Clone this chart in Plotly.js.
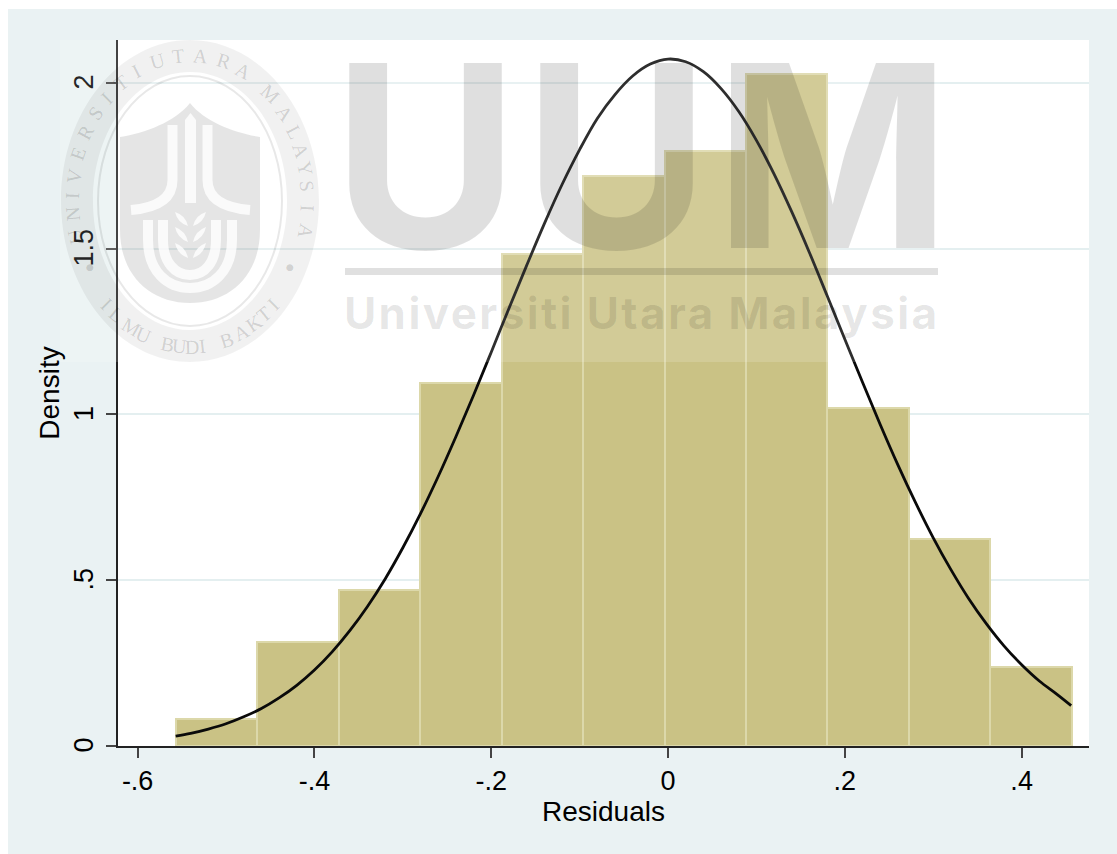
<!DOCTYPE html>
<html>
<head>
<meta charset="utf-8">
<script src="https://cdn.plot.ly/plotly-3.0.1.min.js"></script>
<style>
html,body{margin:0;padding:0;background:#fff;overflow:hidden}
#chart{position:absolute;left:0;top:0;width:1117px;height:854px}
.annotation[data-index="0"] text{letter-spacing:5px}
.annotation[data-index="1"] text{letter-spacing:2.4px}
</style>
</head>
<body>
<div id="chart"></div>
<script>
// Histogram bins
const binCenters = [-0.5105,-0.4184,-0.3263,-0.2342,-0.1421,-0.05,0.0421,0.1342,0.2263,0.3184,0.4105];
const binDensity = [0.08,0.315,0.47,1.095,1.485,1.72,1.795,2.027,1.02,0.625,0.238];
const binWidth = 0.0921;
// Overlaid density curve
const curveX = [-0.557,-0.54,-0.52,-0.50,-0.48,-0.46,-0.44,-0.42,-0.40,-0.38,-0.36,-0.34,-0.32,-0.30,-0.28,-0.26,-0.24,-0.22,-0.20,-0.18,-0.16,-0.14,-0.12,-0.10,-0.08,-0.06,-0.04,-0.02,0,0.02,0.04,0.06,0.08,0.10,0.12,0.14,0.16,0.18,0.20,0.22,0.24,0.26,0.28,0.30,0.32,0.34,0.36,0.38,0.40,0.42,0.44,0.456];
const curveY = [0.03,0.038,0.051,0.067,0.088,0.113,0.145,0.183,0.229,0.284,0.348,0.421,0.504,0.598,0.701,0.813,0.933,1.058,1.188,1.320,1.449,1.575,1.693,1.799,1.893,1.965,2.021,2.057,2.072,2.064,2.034,1.983,1.914,1.827,1.725,1.611,1.488,1.358,1.227,1.097,0.97,0.848,0.734,0.628,0.532,0.445,0.369,0.302,0.245,0.196,0.156,0.122];
// Axes
const xTickVals = [-0.6,-0.4,-0.2,0,0.2,0.4];
const xTickText = ['-.6','-.4','-.2','0','.2','.4'];
const yTickVals = [0,0.5,1,1.5,2];
const yTickText = ['0','.5','1','1.5','2'];
const xTitle = 'Residuals';
const yTitle = 'Density';
// Watermark lettering around the seal: [letter, angle in degrees]
const sealTop = [['U',-104],['N',-95],['I',-88],['V',-80],['E',-71],['R',-62],['S',-53],['I',-45],['T',-36],['I',-27],
  ['U',-16],['T',-6],['A',5],['R',17],['A',27],['M',43],['A',53],['L',62],['A',70],['Y',77],['S',84],['I',93],['A',102]];
const sealBottom = [['I',-45],['L',-39],['M',-30],['U',-23],['B',-11],['U',-5],['D',1],['I',6],['B',18],['A',26],['K',33],['T',39],['I',45]];

const L=118,R=1089,T=40,B=746;
const px=x=>(x-L)/(R-L), py=y=>(B-y)/(B-T);
function P(str){ // page pixels -> paper coords for a path string
  return str.replace(/(-?[\d.]+)\s+(-?[\d.]+)/g,(m,a,b)=>px(+a).toFixed(5)+' '+py(+b).toFixed(5));
}
function ellipse(cx,cy,rx,ry){
  const k=0.5523,a=rx*k,b=ry*k;
  return `M${cx-rx} ${cy} C${cx-rx} ${cy-b} ${cx-a} ${cy-ry} ${cx} ${cy-ry} C${cx+a} ${cy-ry} ${cx+rx} ${cy-b} ${cx+rx} ${cy} C${cx+rx} ${cy+b} ${cx+a} ${cy+ry} ${cx} ${cy+ry} C${cx-a} ${cy+ry} ${cx-rx} ${cy+b} ${cx-rx} ${cy} Z`;
}
function pathShape(d,o){return Object.assign({type:'path',xref:'paper',yref:'paper',path:P(d),layer:'above',line:{width:0}},o);}
function leaf(x0,y0,x1,y1,w){
  const mx=(x0+x1)/2,my=(y0+y1)/2,dx=y1-y0,dy=x0-x1,n=Math.hypot(dx,dy);
  const ox=dx/n*w,oy=dy/n*w;
  return `M${x0} ${y0} Q${mx+ox} ${my+oy} ${x1} ${y1} Q${mx-ox} ${my-oy} ${x0} ${y0} Z`;
}
const cx=190,cy=201;
const gray='rgba(0,0,0,0.10)', white='rgba(255,255,255,0.8)';
const shapes=[
  {type:'rect',xref:'paper',yref:'paper',x0:px(8),x1:px(1117),y0:py(854),y1:py(9),layer:'below',fillcolor:'#eaf2f3',line:{width:0}},
  {type:'rect',xref:'paper',yref:'paper',x0:0,x1:1,y0:0,y1:1,layer:'below',fillcolor:'#ffffff',line:{width:0}},
  {type:'rect',xref:'paper',yref:'paper',x0:px(60),x1:px(940),y0:py(362),y1:py(40),layer:'above',fillcolor:'rgba(255,255,255,0.15)',line:{width:0}},
  pathShape(ellipse(cx,cy,129,161)+' '+ellipse(cx,cy,97,129),{fillcolor:'rgba(0,0,0,0.055)',fillrule:'evenodd'}),
  pathShape(ellipse(cx,cy,92,125),{line:{color:'rgba(0,0,0,0.09)',width:2}}),
  pathShape('M190 103 C175 122 145 133 120 137 L120 230 C120 275 150 303 190 303 C230 303 260 275 260 230 L260 137 C235 133 205 122 190 103 Z',{fillcolor:gray}),
  pathShape('M185 203 L185 120 L190.5 113 L196 120 L196 203 Z',{fillcolor:white}),
  pathShape('M172.5 125 L172.5 180 C172.5 200 155 208 131 210',{line:{color:white,width:10}}),
  pathShape('M207.5 125 L207.5 180 C207.5 200 225 208 250 210',{line:{color:white,width:10}}),
  pathShape('M148 220 L148 240 C148 272 168 288 190 288 C212 288 232 272 232 240 L232 220',{line:{color:white,width:10}}),
  pathShape('M163 220 L163 240 C163 262 175 275 190 275 C205 275 216 262 216 240 L216 220',{line:{color:white,width:10}}),
  {type:'rect',xref:'paper',yref:'paper',x0:px(345),x1:px(938),y0:py(275),y1:py(268),layer:'above',fillcolor:'rgba(0,0,0,0.12)',line:{width:0}}
];
[[226,212],[242,227],[258,243]].forEach(([b,t])=>{
  shapes.push(pathShape(leaf(188,b,175,t,5.5),{fillcolor:white}));
  shapes.push(pathShape(leaf(193,b,206,t,5.5),{fillcolor:white}));
});
const bigText='rgba(0,0,0,0.125)';
const annotations=[
  {text:'UUM',xref:'paper',yref:'paper',x:px(644),y:py(155),xanchor:'center',yanchor:'middle',showarrow:false,
   font:{family:'Inter',size:254,weight:700,color:bigText}},
  {text:'Universiti Utara Malaysia',xref:'paper',yref:'paper',x:px(641),y:py(313),xanchor:'center',yanchor:'middle',showarrow:false,
   font:{family:'Inter',size:44,weight:700,color:'rgba(0,0,0,0.10)'}}
];
const ringColor='rgba(0,0,0,0.15)', rx=118, ry=146;
sealTop.forEach(([c,a])=>{const t=a*Math.PI/180;
  annotations.push({text:c,xref:'paper',yref:'paper',x:px(cx+rx*Math.sin(t)),y:py(cy-ry*Math.cos(t)),textangle:a,xanchor:'center',yanchor:'middle',showarrow:false,font:{family:'Liberation Serif',size:20,color:ringColor}});
});
sealBottom.forEach(([c,a])=>{const t=a*Math.PI/180;
  annotations.push({text:c,xref:'paper',yref:'paper',x:px(cx+rx*Math.sin(t)),y:py(cy+ry*Math.cos(t)),textangle:-a,xanchor:'center',yanchor:'middle',showarrow:false,font:{family:'Liberation Serif',size:20,color:ringColor}});
});
[-1,1].forEach(s=>annotations.push({text:'●',xref:'paper',yref:'paper',x:px(cx+s*100),y:py(267),xanchor:'center',yanchor:'middle',showarrow:false,font:{family:'DejaVu Sans',size:9,color:ringColor}}));

const tickFont={family:'Liberation Sans',size:27,color:'#000'};
const titleFont={family:'Liberation Sans',size:28,color:'#000'};
Plotly.newPlot('chart',[
  {type:'bar',x:binCenters,y:binDensity,width:binWidth,marker:{color:'#cac285',line:{color:'#dcd8aa',width:2}},hoverinfo:'x+y'},
  {type:'scatter',mode:'lines',x:curveX,y:curveY,line:{color:'#0a0a0a',width:2.8,shape:'spline',smoothing:1},hoverinfo:'x+y'}
],{
  width:1117,height:854,
  margin:{l:118,r:28,t:40,b:108,pad:0},
  paper_bgcolor:'#ffffff',plot_bgcolor:'#ffffff',
  showlegend:false,bargap:0,
  font:{family:'Liberation Sans',color:'#000'},
  xaxis:{range:[-0.6222,0.4762],tickmode:'array',tickvals:xTickVals,ticktext:xTickText,tickfont:tickFont,tickangle:0,
    showgrid:false,zeroline:false,showline:true,linecolor:'#222',linewidth:1.5,ticks:'outside',ticklen:10,tickwidth:1.5,tickcolor:'#444',
    title:{text:xTitle,font:titleFont,standoff:0},automargin:false},
  yaxis:{range:[0,2.1296],tickmode:'array',tickvals:yTickVals,ticktext:yTickText,tickfont:tickFont,tickangle:-90,ticklabelstandoff:2,ticklabelshift:3,
    showgrid:true,gridcolor:'#e4eff0',gridwidth:2,zeroline:false,showline:true,linecolor:'#222',linewidth:1.5,ticks:'outside',ticklen:10,tickwidth:1.5,tickcolor:'#444',
    title:{text:yTitle,font:titleFont,standoff:2},automargin:false},
  shapes:shapes,annotations:annotations
},{displayModeBar:false,responsive:false});
</script>
</body>
</html>
